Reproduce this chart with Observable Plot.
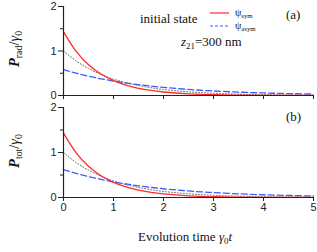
<!DOCTYPE html>
<html><head><meta charset="utf-8">
<script src="https://cdn.jsdelivr.net/npm/d3@7"></script>
<script src="https://cdn.jsdelivr.net/npm/@observablehq/plot@0.6"></script>
<style>
body{margin:0;background:#fff;}
#c{position:relative;width:317px;height:252px;overflow:hidden;font-family:"Liberation Serif","Times New Roman",serif;color:#111;}
#c svg{position:absolute;left:0;}
.t{position:absolute;white-space:nowrap;line-height:1;font-family:"Liberation Serif","Times New Roman",serif;}
.s{font-size:68%;position:relative;top:0.3em;}
.ylab{position:absolute;white-space:nowrap;line-height:1;transform:translate(-50%,-50%) rotate(-90deg);font-size:14.5px;font-family:"Liberation Serif","Times New Roman",serif;}
</style></head><body>
<div id="c"></div>
<script>
const t = [0,0.25,0.5,0.75,1,1.25,1.5,1.75,2,2.5,3,3.5,4,4.5,5];
const radSym  = [1.43,0.995,0.693,0.482,0.336,0.234,0.162,0.113,0.079,0.038,0.018,0.009,0.004,0.002,0.001];
const radAsym = [0.58,0.502,0.434,0.375,0.325,0.281,0.243,0.210,0.182,0.136,0.102,0.076,0.057,0.043,0.032];
const radRef  = [1.0,0.779,0.607,0.472,0.368,0.287,0.223,0.174,0.135,0.082,0.050,0.030,0.018,0.011,0.007];
const totSym  = [1.43,0.995,0.693,0.482,0.336,0.234,0.162,0.113,0.079,0.038,0.018,0.009,0.004,0.002,0.001];
const totAsym = [0.62,0.537,0.464,0.401,0.347,0.300,0.260,0.224,0.194,0.145,0.109,0.081,0.061,0.046,0.034];
const totRef  = [1.0,0.779,0.607,0.472,0.368,0.287,0.223,0.174,0.135,0.082,0.050,0.030,0.018,0.011,0.007];
const yMajor = [0,1,2];
const yMinor = [0.5,1.5];
const xTicks = [0,1,2,3,4,5];

const RED = "#ff2a2a", BLUE = "#3b5cff", GREY = "#666", AX = "#222";
const tickFont = '"Liberation Sans", Arial, sans-serif';

function panel(sym, asym, ref, showX, height, mt, mb) {
  const row = (arr) => t.map((x,i)=>({t:x, v:arr[i]}));
  return Plot.plot({
    width:317, height, marginTop:mt, marginBottom:mb, marginLeft:63, marginRight:4,
    style:{fontFamily:tickFont, fontSize:"11px", color:AX, background:"transparent", overflow:"visible"},
    x:{domain:[0,5]}, y:{domain:[0,2]},
    marks:[
      Plot.line(row(ref), {x:"t", y:"v", stroke:GREY, strokeWidth:1, strokeDasharray:"1,2", curve:"natural"}),
      Plot.line(row(asym), {x:"t", y:"v", stroke:BLUE, strokeWidth:1.3, strokeDasharray:"6,3", curve:"natural"}),
      Plot.line(row(sym), {x:"t", y:"v", stroke:RED, strokeWidth:1.3, curve:"natural"}),
      Plot.axisY(yMajor, {tickSize:5, tickPadding:2, label:null, stroke:AX}),
      Plot.axisY(yMinor, {tickSize:3, text:null, label:null, stroke:AX}),
      showX ? Plot.axisX(xTicks, {tickSize:4, tickPadding:2, label:null, stroke:AX})
            : Plot.axisX(xTicks, {tickSize:4, text:null, label:null, stroke:AX}),
      Plot.ruleY([0], {stroke:AX, strokeWidth:1.2}),
      Plot.ruleX([0], {stroke:AX, strokeWidth:1.2})
    ]
  });
}

const c = document.getElementById("c");
const a = panel(radSym, radAsym, radRef, false, 100, 6, 5);
a.style.top = "0px";
const b = panel(totSym, totAsym, totRef, true, 152, 7, 55);
b.style.top = "100px";
c.appendChild(a); c.appendChild(b);

c.insertAdjacentHTML("beforeend", `
<div class="ylab" style="left:14px;top:49px;"><b><i>P</i></b><span class="s">rad</span>/<i>γ</i><span class="s">0</span></div>
<div class="ylab" style="left:14px;top:151px;"><b><i>P</i></b><span class="s">tot</span>/<i>γ</i><span class="s">0</span></div>
<div class="t" style="left:140px;top:12px;font-size:13px;">initial state</div>
<svg style="position:absolute;left:209px;top:8px;" width="22" height="22">
  <line x1="1" y1="5" x2="20" y2="5" stroke="${RED}" stroke-width="1.2"/>
  <line x1="1" y1="18" x2="20" y2="18" stroke="${BLUE}" stroke-width="1.2" stroke-dasharray="3,2"/>
</svg>
<div class="t" style="left:235px;top:8px;font-size:10px;">ψ<span class="s">sym</span></div>
<div class="t" style="left:235px;top:21px;font-size:10px;">ψ<span class="s">asym</span></div>
<div class="t" style="left:286px;top:8px;font-size:13px;">(a)</div>
<div class="t" style="left:286px;top:110px;font-size:13px;">(b)</div>
<div class="t" style="left:181px;top:35px;font-size:13px;"><i>z</i><span class="s">21</span>=300 nm</div>
<div class="t" style="left:138px;top:230px;font-size:13px;">Evolution time <i>γ</i><span class="s">0</span><i>t</i></div>
`);
</script>
</body></html>
